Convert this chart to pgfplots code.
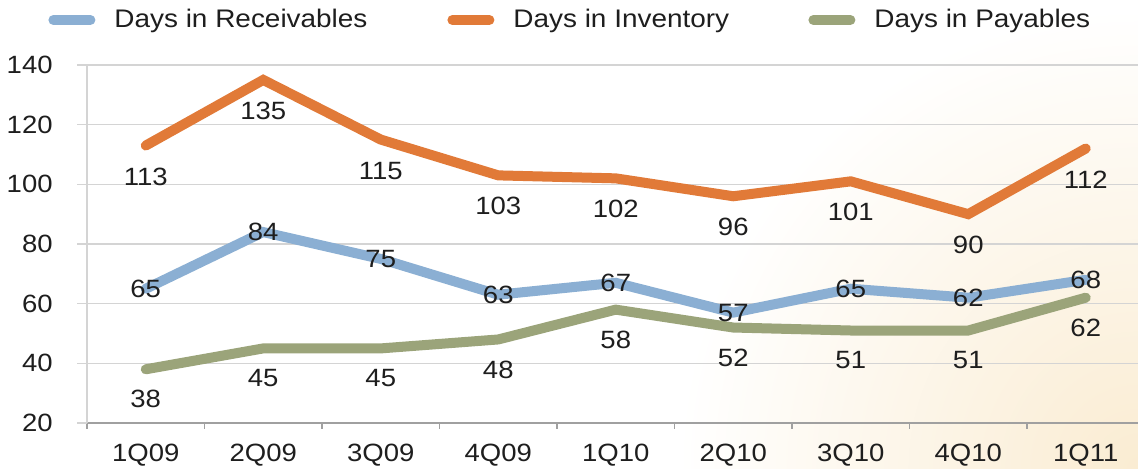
\documentclass[border=0pt]{standalone}
\usepackage{fontspec}
\setmainfont{Liberation Sans}[FakeStretch=1.1]
\usepackage{pgfplots}
\pgfplotsset{compat=1.18}
\definecolor{recv}{RGB}{139,175,211}
\definecolor{inv}{RGB}{225,122,56}
\definecolor{pay}{RGB}{155,164,122}
\definecolor{gridc}{RGB}{212,212,212}
\definecolor{axisc}{RGB}{160,160,160}
\definecolor{txt}{RGB}{30,30,30}
\definecolor{warm}{RGB}{250,236,210}
\begin{document}
\fontsize{12.5}{15}\selectfont
\begin{tikzpicture}
\useasboundingbox (0,0) rectangle (569pt,234.5pt);
% warm tint in the lower right corner
\begin{scope}
  \clip (0,0) rectangle (569pt,234.5pt);
  \shade[inner color=warm, outer color=white] (569pt,0pt) circle (230pt);
\end{scope}
\begin{axis}[
  at={(43.5pt,23pt)}, anchor=south west,
  scale only axis, width=528.75pt, height=179pt,
  xmin=-0.5, xmax=8.5, ymin=20, ymax=140,
  xtick={0,...,8},
  xticklabels={1Q09,2Q09,3Q09,4Q09,1Q10,2Q10,3Q10,4Q10,1Q11},
  minor xtick={-0.5,0.5,...,8.5},
  ytick={20,40,...,140},
  ymajorgrids,
  major grid style={gridc, line width=0.75pt},
  axis x line*=bottom, axis y line*=left,
  x axis line style={axisc, line width=0.6pt},
  y axis line style={gridc, line width=0.75pt},
  tick align=outside,
  major x tick style={draw=none},
  minor x tick style={axisc, line width=0.6pt},
  minor tick length=3pt,
  major y tick style={gridc, line width=0.75pt},
  major tick length=5pt,
  /pgf/number format/assume math mode=true,
  yticklabel style={text=txt, anchor=east, inner sep=0pt, xshift=-12pt},
  xticklabel style={text=txt, anchor=north, inner sep=0pt, yshift=-5.5pt},
  legend columns=3,
  legend cell align=left,
  legend style={draw=none, fill=none, inner sep=0pt,
    at={(axis description cs:0,1)}, anchor=west,
    xshift=-19.5pt, yshift=22.5pt,
    font=\fontsize{12.7}{15}\selectfont,
    nodes={inner sep=0pt, text=txt},
    /tikz/every odd column/.append style={column sep=9.5pt},
    /tikz/every even column/.append style={column sep=0pt}},
  legend image code/.code={
    \draw[#1, line cap=round] (0pt,0pt) -- (18.5pt,0pt);},
]
\addplot[recv, line width=5pt, line cap=round, nodes near coords,
  every node near coord/.append style={anchor=center, text=txt}]
  coordinates {(0,65) (1,84) (2,75) (3,63) (4,67) (5,57) (6,65) (7,62) (8,68)};
\addlegendentry{\makebox[166.5pt][l]{Days in Receivables}}
\addplot[inv, line width=5pt, line cap=round, nodes near coords,
  every node near coord/.append style={anchor=center, yshift=-15.5pt, text=txt}]
  coordinates {(0,113) (1,135) (2,115) (3,103) (4,102) (5,96) (6,101) (7,90) (8,112)};
\addlegendentry{\makebox[147.5pt][l]{Days in Inventory}}
\addplot[pay, line width=5pt, line cap=round, nodes near coords,
  every node near coord/.append style={anchor=center, yshift=-15pt, text=txt}]
  coordinates {(0,38) (1,45) (2,45) (3,48) (4,58) (5,52) (6,51) (7,51) (8,62)};
\addlegendentry{Days in Payables}
\end{axis}
\end{tikzpicture}
\end{document}
